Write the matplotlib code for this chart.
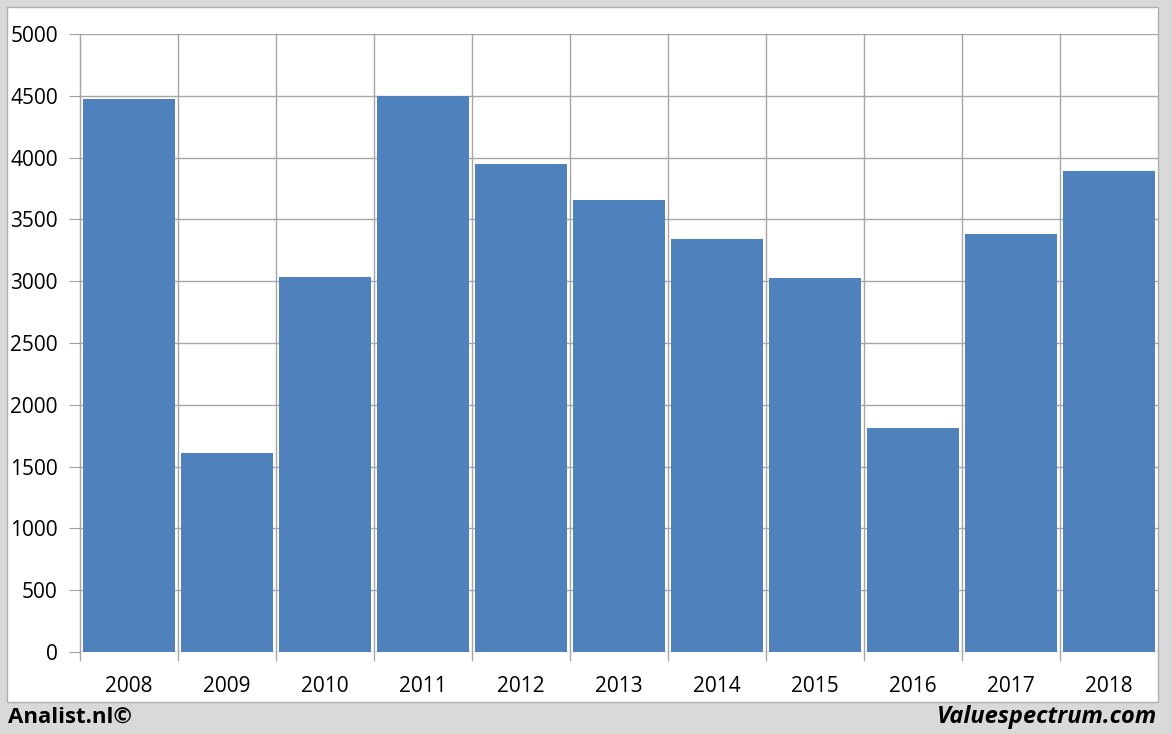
import matplotlib
matplotlib.use("Agg")
import matplotlib.pyplot as plt
from matplotlib.patches import Rectangle

years = ["2008", "2009", "2010", "2011", "2012", "2013", "2014", "2015", "2016", "2017", "2018"]
values = [4475, 1610, 3034, 4500, 3948, 3657, 3341, 3026, 1812, 3382, 3892]
yticks = [0, 500, 1000, 1500, 2000, 2500, 3000, 3500, 4000, 4500, 5000]

plt.rcParams['font.family'] = ['Open Sans', 'DejaVu Sans']

W, H = 1172, 734
fig = plt.figure(figsize=(W / 100, H / 100), dpi=100)
fig.patch.set_facecolor('#D9D9D9')

# white panel
fig.patches.append(Rectangle((7 / W, 1 - 702 / H), (1158 - 7) / W, (702 - 7) / H,
                             transform=fig.transFigure, facecolor='white',
                             edgecolor='#B0B0B0', linewidth=1, zorder=-10))

ax = fig.add_axes([80 / W, 1 - 652 / H, (1158 - 80) / W, (652 - 34) / H])
ax.set_zorder(1)
ax.set_facecolor('none')
x = list(range(len(years)))
ax.bar(x, values, width=0.93, color='#4F81BD', edgecolor='none', zorder=3)
ax.set_xlim(-0.5, len(years) - 0.5)
ax.set_ylim(0, 5000)
ax.set_yticks(yticks)
ax.set_yticklabels([str(v) for v in yticks], fontsize=15)
ax.set_xticks(x)
ax.set_xticklabels(years, fontsize=15)
ax.tick_params(axis='x', length=0, pad=17)
ax.tick_params(axis='y', length=8, color='#A0A0A0', pad=8)
for yv in yticks:
    ax.axhline(yv, color='#A6A6A6', linewidth=1, zorder=1)
for i in range(len(years)):
    xb = i - 0.5
    ax.plot([xb, xb], [-0.013 * 5000, 5000], color='#A6A6A6', linewidth=1,
            zorder=1, clip_on=False)
for s in ['top', 'right', 'bottom']:
    ax.spines[s].set_visible(False)
ax.spines['left'].set_color('#A6A6A6')

fig.text(8 / W, 1 - 717 / H, "Analist.nl©", fontsize=16, fontweight='bold',
         ha='left', va='center')
fig.text(1157 / W, 1 - 717 / H, "Valuespectrum.com", fontsize=17, fontweight='bold',
         fontstyle='italic', ha='right', va='center')

fig.savefig("out.png", dpi=100, facecolor=fig.get_facecolor())
